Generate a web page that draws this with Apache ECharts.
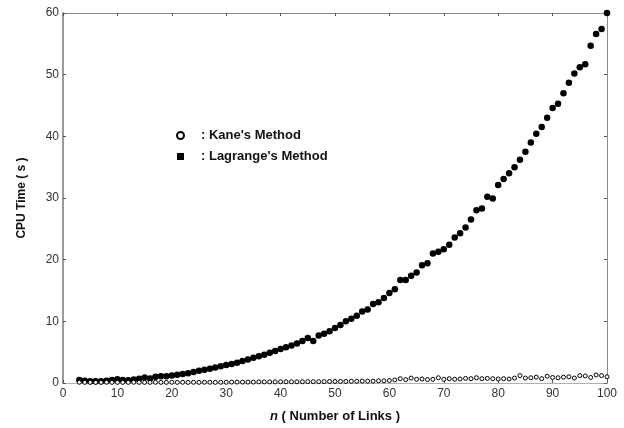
<!DOCTYPE html>
<html>
<head>
<meta charset="utf-8">
<script src="https://cdn.jsdelivr.net/npm/echarts@6/dist/echarts.min.js"></script>
<style>html,body{margin:0;padding:0;background:#fff}#c{width:624px;height:428px}</style>
</head>
<body>
<div id="c"></div>
<script>
var nValues = [];
for (var k = 3; k <= 100; k++) nValues.push(k);

var lagrange = [
 0.5,0.35,0.3,0.3,0.3,0.35,0.5,0.6,0.5,0.45,0.55,0.7,0.9,0.75,1.0,1.1,1.1,1.2,
 1.35,1.45,1.6,1.8,2.0,2.15,2.3,2.5,2.7,2.9,3.1,3.3,3.55,3.8,4.1,4.35,4.6,4.9,5.2,5.5,
 5.8,6.1,6.4,6.8,7.3,6.8,7.7,8.0,8.4,8.9,9.4,10.0,10.4,10.9,11.6,11.9,12.8,13.1,13.8,14.6,
 15.2,16.7,16.7,17.4,17.9,19.1,19.4,21.0,21.3,21.7,22.4,23.6,24.3,25.2,26.5,28.0,28.3,30.2,29.9,32.1,
 33.1,34.0,35.0,36.2,37.5,39.0,40.4,41.5,43.0,44.6,45.3,47.0,48.7,50.2,51.2,51.7,54.7,56.6,57.4,60.0
];

var kane = [
 0.12,0.1,0.1,0.1,0.1,0.12,0.1,0.1,0.1,0.1,0.12,0.1,0.1,0.1,0.12,0.1,0.1,0.12,
 0.1,0.12,0.1,0.12,0.1,0.12,0.12,0.1,0.12,0.12,0.15,0.15,0.15,0.15,0.15,0.18,0.18,0.18,0.18,0.2,
 0.2,0.2,0.2,0.2,0.22,0.22,0.22,0.22,0.25,0.25,0.25,0.25,0.28,0.28,0.3,0.3,0.3,0.35,0.35,0.4,
 0.5,0.7,0.55,0.8,0.6,0.65,0.55,0.6,0.85,0.6,0.7,0.6,0.65,0.75,0.7,0.85,0.7,0.75,0.7,0.65,
 0.7,0.65,0.8,1.2,0.8,0.85,0.95,0.7,1.1,0.9,0.85,0.95,1.0,0.8,1.2,1.15,0.9,1.3,1.2,1.0
];

var xTicks = [0,10,20,30,40,50,60,70,80,90,100];
var yTicks = [0,10,20,30,40,50,60];

function pairs(vals){ return nValues.map(function(n,i){ return [n, vals[i]]; }); }

var font = 'Liberation Sans, Arial, sans-serif';
var chart = echarts.init(document.getElementById('c'));
chart.setOption({
  animation:false,
  backgroundColor:'#fff',
  textStyle:{fontFamily:font},
  grid:{left:63, right:17, top:13, bottom:44, containLabel:false},
  legend:{
    orient:'vertical', left:171, top:124, itemWidth:7, itemHeight:7, itemGap:8,
    textStyle:{fontFamily:font, fontWeight:'bold', fontSize:13, color:'#111', padding:[0,0,0,12]},
    formatter:function(name){ return ': ' + name; },
    data:[{name:"Kane's Method", icon:'circle'}, {name:"Lagrange's Method", icon:'rect'}]
  },
  xAxis:[{
    type:'value', min:xTicks[0], max:xTicks[xTicks.length-1], interval:10, position:'bottom',
    name:'{i|n} ( Number of Links )', nameLocation:'middle', nameGap:27,
    nameTextStyle:{fontFamily:font, fontWeight:'bold', fontSize:13, color:'#111',
      rich:{i:{fontStyle:'italic', fontWeight:'bold', fontSize:13, fontFamily:font, color:'#111'}}},
    axisLine:{show:true, onZero:false, lineStyle:{color:'#b0b0b0', width:1}},
    axisTick:{show:true, inside:true, length:3, lineStyle:{color:'#555'}},
    axisLabel:{fontFamily:font, fontSize:12, color:'#333', margin:5},
    splitLine:{show:false}
  },{
    type:'value', min:0, max:100, interval:10, position:'top',
    axisLine:{show:true, onZero:false, lineStyle:{color:'#8a8a8a', width:1}},
    axisTick:{show:true, inside:true, length:3, lineStyle:{color:'#555'}},
    axisLabel:{show:false}, splitLine:{show:false}
  }],
  yAxis:[{
    type:'value', min:yTicks[0], max:yTicks[yTicks.length-1], interval:10, position:'left',
    name:'CPU Time ( s )', nameLocation:'middle', nameGap:35,
    nameTextStyle:{fontFamily:font, fontWeight:'bold', fontSize:12, color:'#111'},
    axisLine:{show:true, onZero:false, lineStyle:{color:'#9a9a9a', width:2}},
    axisTick:{show:true, inside:true, length:3, lineStyle:{color:'#555'}},
    axisLabel:{fontFamily:font, fontSize:12, color:'#333', margin:4},
    splitLine:{show:false}
  },{
    type:'value', min:0, max:60, interval:10, position:'right',
    axisLine:{show:true, onZero:false, lineStyle:{color:'#8a8a8a', width:1}},
    axisTick:{show:true, inside:true, length:3, lineStyle:{color:'#555'}},
    axisLabel:{show:false}, splitLine:{show:false}
  }],
  series:[{
    name:"Lagrange's Method", type:'scatter', xAxisIndex:0, yAxisIndex:0,
    symbol:'circle', symbolSize:6.5, itemStyle:{color:'#000', opacity:1},
    data:pairs(lagrange)
  },{
    name:"Kane's Method", type:'scatter', xAxisIndex:0, yAxisIndex:0,
    symbol:'circle', symbolSize:4, itemStyle:{color:'#fff', borderColor:'#000', borderWidth:1, opacity:1},
    data:pairs(kane)
  }]
});
</script>
</body>
</html>
